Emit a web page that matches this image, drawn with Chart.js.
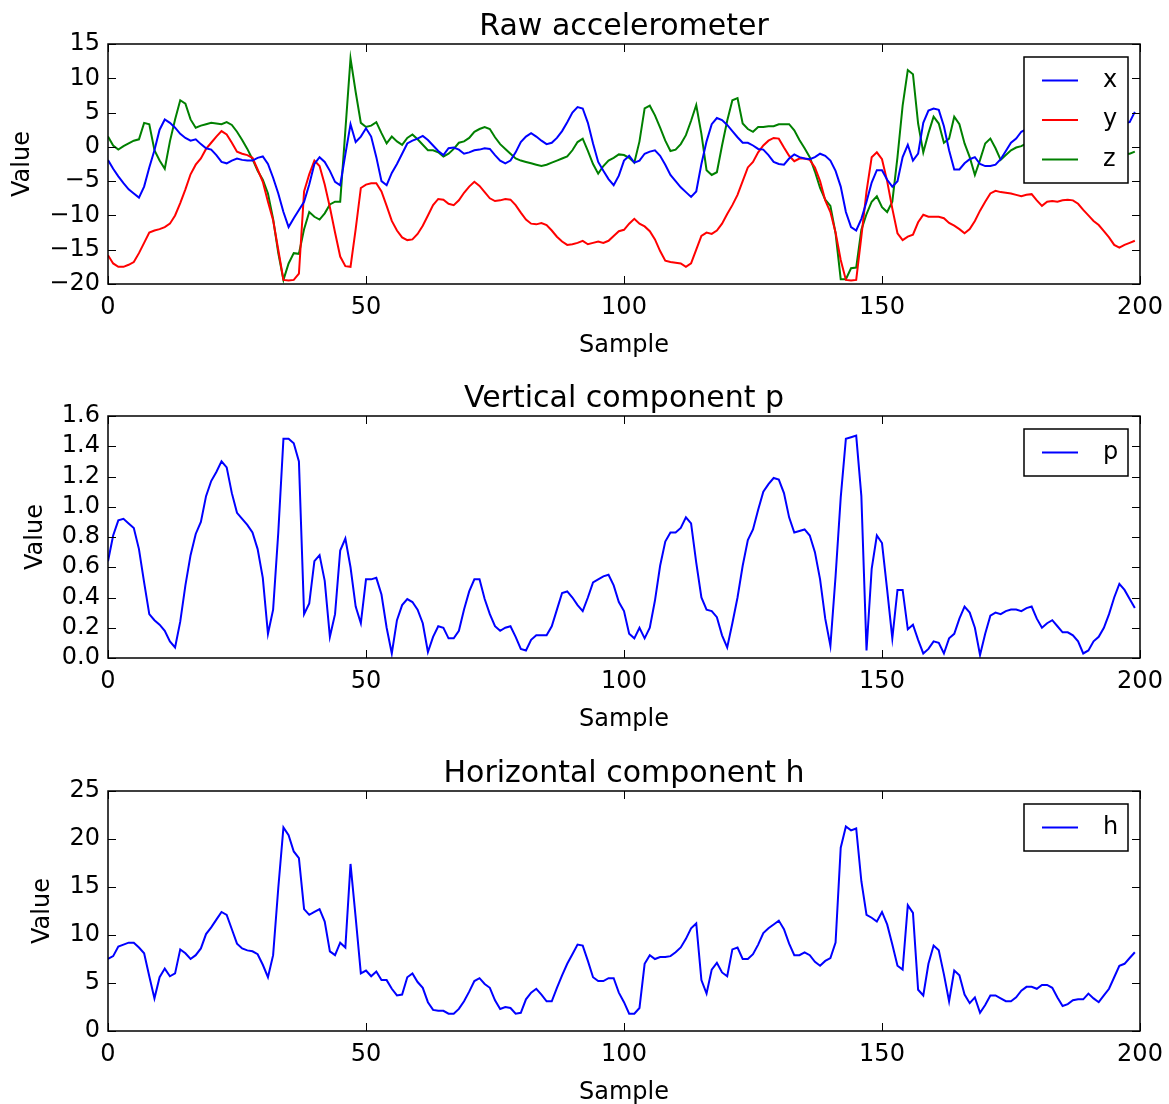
<!DOCTYPE html>
<html>
<head>
<meta charset="utf-8">
<title>Accelerometer components</title>
<script src="https://cdn.jsdelivr.net/npm/chart.js@4.4.1/dist/chart.umd.min.js"></script>
<style>
  html, body { margin: 0; padding: 0; background: #fff; overflow: hidden; }
  .panel { position: absolute; left: 0; }
</style>
</head>
<body>
<canvas id="rawChart" class="panel" style="top:0px" width="1169" height="360"></canvas>
<canvas id="pChart" class="panel" style="top:360px" width="1169" height="374"></canvas>
<canvas id="hChart" class="panel" style="top:734px" width="1169" height="373"></canvas>
<script>
// ----------------------------
// data
// ----------------------------
const samples = Array.from({ length: 200 }, (_, i) => i);

const accX = [
  -1.9, -3.2, -4.3, -5.3, -6.2, -6.8, -7.4, -5.8, -3.0, -0.5,
  2.5, 4.0, 3.5, 2.8, 1.9, 1.3, 0.9, 1.1, 0.4, -0.2,
  -0.4, -1.2, -2.2, -2.4, -2.0, -1.7, -1.9, -2.0, -2.0, -1.6,
  -1.4, -2.5, -4.5, -6.8, -9.5, -11.7, -10.4, -9.2, -8.0, -5.5,
  -2.5, -1.5, -2.2, -3.5, -5.1, -5.6, -1.1, 3.3, 0.7, 1.5,
  2.7, 1.5, -1.5, -5.0, -5.6, -3.8, -2.5, -1.0, 0.5, 0.9,
  1.2, 1.6, 1.0, 0.2, -0.6, -1.2, -0.2, -0.1, -0.4, -1.0,
  -0.8, -0.5, -0.4, -0.2, -0.3, -1.2, -2.0, -2.4, -2.0, -0.8,
  0.7, 1.5, 2.0, 1.5, 0.9, 0.4, 0.6, 1.3, 2.3, 3.6,
  5.0, 5.8, 5.6, 3.5, 0.5, -2.2, -3.5, -4.7, -5.6, -4.2,
  -2.0, -1.3, -2.3, -2.0, -1.0, -0.7, -0.5, -1.3, -2.6, -4.1,
  -5.0, -5.9, -6.6, -7.3, -6.5, -2.5, 0.8, 3.3, 4.2, 3.9,
  3.2, 2.3, 1.4, 0.6, 0.6, 0.2, -0.3, -0.4, -1.2, -2.2,
  -2.5, -2.6, -1.7, -1.1, -1.5, -1.7, -1.8, -1.5, -1.0, -1.3,
  -2.0, -3.5, -5.8, -9.5, -11.7, -12.2, -10.5, -8.0, -5.2, -3.4,
  -3.4, -4.8, -5.8, -5.0, -1.5, 0.3, -2.0, -1.0, 3.5, 5.3,
  5.6, 5.4, 3.0, -0.5, -3.3, -3.3, -2.4, -1.8, -1.5, -2.5,
  -2.8, -2.8, -2.6, -1.8, -0.6, 0.6, 1.2, 2.2, 2.6, 2.2,
  3.0, 3.8, 3.1, 2.4, 1.9, 2.5, 3.4, 4.0, 3.3, 2.6,
  2.1, 2.7, 3.5, 3.1, 2.6, 2.9, 3.3, 3.5, 3.6, 5.1
];

const accY = [
  -15.8, -17.0, -17.5, -17.5, -17.2, -16.8, -15.5, -14.0, -12.5, -12.2,
  -12.0, -11.7, -11.2, -10.0, -8.2, -6.2, -4.0, -2.6, -1.7, -0.3,
  0.6, 1.5, 2.3, 1.8, 0.6, -0.7, -1.0, -1.2, -1.6, -3.3,
  -5.1, -8.0, -10.7, -15.0, -19.4, -19.5, -19.4, -18.5, -6.5, -4.0,
  -2.0, -2.8, -5.5, -8.8, -12.5, -16.0, -17.4, -17.5, -12.0, -6.0,
  -5.5, -5.3, -5.3, -6.5, -8.6, -10.8, -12.2, -13.2, -13.6, -13.5,
  -12.7, -11.5, -10.0, -8.5, -7.6, -7.7, -8.3, -8.5, -7.8, -6.7,
  -5.8, -5.1, -5.7, -6.6, -7.5, -7.9, -7.8, -7.6, -7.7, -8.5,
  -9.6, -10.6, -11.2, -11.3, -11.1, -11.4, -12.2, -13.1, -13.8, -14.3,
  -14.2, -14.0, -13.7, -14.2, -14.0, -13.8, -14.0, -13.7, -13.0, -12.3,
  -12.1, -11.2, -10.5, -11.2, -11.6, -12.3, -13.5, -15.2, -16.6, -16.8,
  -16.9, -17.0, -17.5, -17.0, -15.0, -13.0, -12.5, -12.7, -12.2, -11.2,
  -9.8, -8.5, -7.0, -5.0, -3.0, -2.2, -0.8, 0.2, 0.9, 1.3,
  1.2, -0.1, -1.3, -2.1, -1.7, -1.7, -1.9, -3.0, -5.0, -7.8,
  -9.5, -12.5, -16.5, -19.4, -19.5, -19.4, -13.1, -6.5, -1.5, -0.8,
  -1.8, -5.0, -9.0, -12.6, -13.6, -13.1, -12.8, -11.0, -9.9, -10.2,
  -10.2, -10.2, -10.4, -11.1, -11.5, -12.0, -12.6, -12.0, -10.8, -9.3,
  -8.0, -6.8, -6.4, -6.6, -6.7, -6.8, -7.0, -7.2, -7.0, -6.9,
  -7.8, -8.6, -8.0, -7.9, -8.0, -7.8, -7.7, -7.8, -8.3, -9.2,
  -10.0, -10.8, -11.4, -12.3, -13.2, -14.3, -14.7, -14.3, -14.0, -13.7
];

const accZ = [
  1.5, 0.2, -0.4, 0.1, 0.5, 0.9, 1.1, 3.5, 3.3, -0.5,
  -2.0, -3.2, 0.8, 4.0, 6.8, 6.3, 4.0, 2.8, 3.1, 3.3,
  3.5, 3.4, 3.3, 3.6, 3.2, 2.2, 1.0, -0.3, -1.8, -3.5,
  -4.8, -6.8, -10.5, -15.5, -19.4, -17.0, -15.5, -15.6, -12.0, -9.5,
  -10.2, -10.6, -9.7, -8.4, -8.0, -8.0, 2.4, 12.9, 8.0, 3.5,
  2.9, 3.1, 3.6, 2.0, 0.5, 1.5, 0.8, 0.3, 1.3, 1.8,
  1.1, 0.3, -0.5, -0.5, -0.8, -1.4, -1.0, -0.3, 0.6, 0.8,
  1.3, 2.2, 2.6, 2.9, 2.6, 1.4, 0.4, -0.3, -1.0, -1.7,
  -2.0, -2.2, -2.4, -2.6, -2.8, -2.6, -2.3, -2.0, -1.7, -1.4,
  -0.5, 0.7, 1.2, -0.6, -2.5, -3.9, -2.8, -2.0, -1.6, -1.1,
  -1.2, -1.6, -2.3, 0.8, 5.6, 6.0, 4.6, 2.8, 0.9, -0.6,
  -0.4, 0.4, 1.7, 3.8, 6.1, 1.9, -3.4, -4.1, -3.7, 0.2,
  3.8, 6.8, 7.1, 3.4, 2.6, 2.2, 2.9, 2.9, 3.0, 3.0,
  3.3, 3.3, 3.3, 2.4, 1.0, -0.2, -1.5, -3.6, -6.0, -7.7,
  -8.6, -12.6, -19.3, -19.3, -17.7, -17.6, -12.1, -9.8, -8.0, -7.2,
  -8.8, -9.5, -8.0, -1.5, 6.0, 11.2, 10.6, 3.4, -0.8, 2.0,
  4.4, 3.4, 0.6, 1.2, 4.4, 3.3, 0.5, -1.5, -4.1, -1.9,
  0.5, 1.2, -0.2, -1.9, -1.2, -0.5, -0.1, 0.1, 0.5, 1.0,
  0.2, -0.5, -1.2, -0.8, 0.0, 0.6, 0.2, -0.6, -1.4, -1.8,
  -1.2, -0.4, 0.3, -0.2, -0.9, -1.5, -1.2, -1.0, -1.0, -0.7
];

const vertP = [
  0.64, 0.81, 0.91, 0.92, 0.89, 0.86, 0.72, 0.50, 0.29, 0.25,
  0.22, 0.18, 0.11, 0.07, 0.24, 0.48, 0.68, 0.82, 0.90, 1.07,
  1.17, 1.23, 1.30, 1.26, 1.09, 0.96, 0.92, 0.88, 0.83, 0.72,
  0.53, 0.16, 0.32, 0.83, 1.45, 1.45, 1.42, 1.30, 0.29, 0.36,
  0.64, 0.68, 0.51, 0.14, 0.29, 0.71, 0.79, 0.60, 0.34, 0.23,
  0.52, 0.52, 0.53, 0.42, 0.20, 0.03, 0.25, 0.35, 0.39, 0.37,
  0.32, 0.23, 0.04, 0.14, 0.21, 0.20, 0.13, 0.13, 0.18, 0.32,
  0.44, 0.52, 0.52, 0.39, 0.29, 0.21, 0.18, 0.20, 0.21, 0.14,
  0.06, 0.05, 0.12, 0.15, 0.15, 0.15, 0.21, 0.32, 0.43, 0.44,
  0.40, 0.35, 0.31, 0.40, 0.50, 0.52, 0.54, 0.55, 0.48, 0.37,
  0.31, 0.16, 0.13, 0.20, 0.13, 0.20, 0.38, 0.61, 0.77, 0.83,
  0.83, 0.86, 0.93, 0.89, 0.63, 0.40, 0.32, 0.31, 0.27, 0.15,
  0.07, 0.23, 0.40, 0.61, 0.78, 0.85, 0.98, 1.10, 1.15, 1.19,
  1.18, 1.09, 0.93, 0.83, 0.84, 0.85, 0.81, 0.70, 0.52, 0.26,
  0.08, 0.54, 1.06, 1.45, 1.46, 1.47, 1.07, 0.05, 0.59, 0.81,
  0.76, 0.45, 0.13, 0.45, 0.45, 0.19, 0.22, 0.12, 0.03, 0.06,
  0.11, 0.10, 0.03, 0.13, 0.16, 0.26, 0.34, 0.30, 0.20, 0.02,
  0.16, 0.28, 0.30, 0.29, 0.31, 0.32, 0.32, 0.31, 0.33, 0.34,
  0.26, 0.20, 0.23, 0.25, 0.21, 0.17, 0.17, 0.15, 0.11, 0.03,
  0.05, 0.11, 0.14, 0.20, 0.29, 0.40, 0.49, 0.45, 0.39, 0.33
];

const horizH = [
  7.5, 7.8, 8.8, 9.0, 9.2, 9.2, 8.7, 8.1, 5.7, 3.4,
  5.6, 6.5, 5.7, 6.0, 8.5, 8.1, 7.5, 7.9, 8.6, 10.1,
  10.8, 11.6, 12.4, 12.1, 10.6, 9.1, 8.6, 8.4, 8.3, 8.0,
  6.9, 5.6, 7.9, 14.9, 21.2, 20.4, 18.7, 18.0, 12.7, 12.1,
  12.4, 12.7, 11.4, 8.3, 7.9, 9.2, 8.7, 17.4, 11.8, 6.0,
  6.3, 5.7, 6.2, 5.3, 5.3, 4.4, 3.7, 3.8, 5.6, 6.0,
  5.1, 4.5, 3.0, 2.2, 2.1, 2.1, 1.8, 1.8, 2.3, 3.1,
  4.1, 5.2, 5.5, 4.9, 4.5, 3.2, 2.3, 2.5, 2.4, 1.8,
  1.9, 3.3, 4.0, 4.4, 3.8, 3.1, 3.1, 4.5, 5.8, 7.0,
  8.0, 9.0, 8.9, 7.3, 5.6, 5.2, 5.2, 5.5, 5.5, 4.0,
  3.0, 1.8, 1.8, 2.4, 7.0, 7.9, 7.5, 7.7, 7.7, 7.8,
  8.2, 8.7, 9.6, 10.7, 11.2, 5.3, 3.9, 6.4, 7.1, 6.1,
  5.7, 8.5, 8.7, 7.5, 7.5, 8.0, 9.0, 10.2, 10.7, 11.1,
  11.5, 10.6, 9.1, 7.9, 7.9, 8.2, 7.9, 7.2, 6.8, 7.3,
  7.6, 9.2, 19.1, 21.3, 20.9, 21.1, 15.6, 12.1, 11.8, 11.4,
  12.4, 11.1, 9.0, 6.8, 6.4, 13.1, 12.3, 4.3, 3.7, 7.0,
  8.9, 8.4, 5.9, 3.1, 6.3, 5.8, 3.8, 2.9, 3.5, 1.9,
  2.7, 3.7, 3.7, 3.4, 3.1, 3.1, 3.5, 4.2, 4.6, 4.6,
  4.4, 4.8, 4.8, 4.5, 3.5, 2.6, 2.8, 3.2, 3.3, 3.3,
  3.9, 3.4, 3.0, 3.7, 4.4, 5.6, 6.8, 7.0, 7.6, 8.2
];

const sampleTicks = [0, 50, 100, 150, 200];
const rawTicks = [-20, -15, -10, -5, 0, 5, 10, 15];
const pTicks = [0.0, 0.2, 0.4, 0.6, 0.8, 1.0, 1.2, 1.4, 1.6];
const hTicks = [0, 5, 10, 15, 20, 25];

// ----------------------------
// look & feel
// ----------------------------
Chart.defaults.font.family = '"DejaVu Sans", sans-serif';
Chart.defaults.font.size = 24;
Chart.defaults.color = '#000';

const minus = v => (v < 0 ? '\u2212' + Math.abs(v) : String(v));

// panel title, centred over the plot area (not the whole canvas)
const plotTitle = {
  id: 'plotTitle',
  afterDraw(chart, args, opts) {
    const { ctx, chartArea: a } = chart;
    ctx.save();
    ctx.font = '30px "DejaVu Sans", sans-serif';
    ctx.fillStyle = '#000';
    ctx.textAlign = 'center';
    ctx.textBaseline = 'middle';
    ctx.fillText(opts.text, (a.left + a.right) / 2, a.top - 17);
    ctx.restore();
  }
};

// box around the plot + inward tick marks on all four sides
const frameTicks = {
  id: 'frameTicks',
  afterDatasetsDraw(chart) {
    const { ctx, chartArea: a, scales } = chart;
    const len = 8;
    ctx.save();
    ctx.strokeStyle = '#000';
    ctx.lineWidth = 1;
    ctx.beginPath();
    scales.x.ticks.forEach(t => {
      const px = Math.round(scales.x.getPixelForValue(t.value)) + 0.5;
      ctx.moveTo(px, a.bottom); ctx.lineTo(px, a.bottom - len);
      ctx.moveTo(px, a.top); ctx.lineTo(px, a.top + len);
    });
    scales.y.ticks.forEach(t => {
      const py = Math.round(scales.y.getPixelForValue(t.value)) + 0.5;
      ctx.moveTo(a.left, py); ctx.lineTo(a.left + len, py);
      ctx.moveTo(a.right, py); ctx.lineTo(a.right - len, py);
    });
    ctx.stroke();
    ctx.lineWidth = 1.5;
    ctx.strokeRect(a.left, a.top, a.right - a.left, a.bottom - a.top);
    ctx.restore();
  }
};

// framed legend in the upper right corner of the plot
const boxLegend = {
  id: 'boxLegend',
  afterDraw(chart) {
    const { ctx, chartArea: a } = chart;
    const sets = chart.data.datasets;
    const rowH = 39.5;
    const w = 104;
    const h = 47 + rowH * (sets.length - 1);
    const x0 = a.right - 12 - w;
    const y0 = a.top + 13;
    ctx.save();
    ctx.fillStyle = '#fff';
    ctx.fillRect(x0, y0, w, h);
    ctx.strokeStyle = '#000';
    ctx.lineWidth = 1.5;
    ctx.strokeRect(x0, y0, w, h);
    ctx.font = '24px "DejaVu Sans", sans-serif';
    ctx.textBaseline = 'middle';
    ctx.textAlign = 'left';
    sets.forEach((ds, i) => {
      const y = y0 + 23.5 + i * rowH;
      ctx.strokeStyle = ds.borderColor;
      ctx.lineWidth = 2;
      ctx.beginPath();
      ctx.moveTo(x0 + 18, y);
      ctx.lineTo(x0 + 54, y);
      ctx.stroke();
      ctx.fillStyle = '#000';
      ctx.fillText(ds.label, x0 + 79, y);
    });
    ctx.restore();
  }
};

function makePanel(id, cfg) {
  const ctx = document.getElementById(id).getContext('2d');
  const yTicks = cfg.yTicks;
  return new Chart(ctx, {
    type: 'line',
    data: {
      datasets: cfg.series.map(s => ({
        label: s.label,
        data: s.values.map((v, i) => ({ x: samples[i], y: v })),
        borderColor: s.color,
        borderWidth: 2,
        pointRadius: 0,
        tension: 0,
        fill: false
      }))
    },
    options: {
      responsive: false,
      animation: false,
      layout: { padding: { left: 0, right: 29, top: cfg.top, bottom: 0 } },
      plugins: {
        legend: { display: false },
        tooltip: { enabled: false },
        title: { display: false },
        plotTitle: { text: cfg.title }
      },
      scales: {
        x: {
          type: 'linear',
          min: sampleTicks[0],
          max: sampleTicks[sampleTicks.length - 1],
          grid: { display: false, drawTicks: false },
          border: { display: false },
          afterBuildTicks: axis => { axis.ticks = sampleTicks.map(v => ({ value: v })); },
          afterFit: axis => {
            axis.height = 76;
            axis.paddingLeft = 0;
            axis.paddingRight = 0;
          },
          ticks: { padding: 9, autoSkip: false, maxRotation: 0, callback: v => String(v) },
          title: { display: true, text: 'Sample', padding: { top: 0, bottom: 0 } }
        },
        y: {
          min: yTicks[0],
          max: yTicks[yTicks.length - 1],
          grid: { display: false, drawTicks: false },
          border: { display: false },
          afterBuildTicks: axis => { axis.ticks = yTicks.map(v => ({ value: v })); },
          afterFit: axis => {
            axis.width = 108;
            axis.paddingTop = 0;
            axis.paddingBottom = 0;
          },
          ticks: { padding: 8, autoSkip: false, callback: cfg.yFormat },
          title: { display: true, text: 'Value', padding: { top: cfg.yTitleOffset, bottom: 0 } }
        }
      }
    },
    plugins: [frameTicks, boxLegend, plotTitle]
  });
}

makePanel('rawChart', {
  title: 'Raw accelerometer',
  top: 44,
  yTicks: rawTicks,
  yFormat: minus,
  yTitleOffset: 8,
  series: [
    { label: 'x', values: accX, color: '#0000ff' },
    { label: 'y', values: accY, color: '#ff0000' },
    { label: 'z', values: accZ, color: '#008000' }
  ]
});

makePanel('pChart', {
  title: 'Vertical component p',
  top: 56,
  yTicks: pTicks,
  yFormat: v => v.toFixed(1),
  yTitleOffset: 21,
  series: [{ label: 'p', values: vertP, color: '#0000ff' }]
});

makePanel('hChart', {
  title: 'Horizontal component h',
  top: 57,
  yTicks: hTicks,
  yFormat: v => String(v),
  yTitleOffset: 28,
  series: [{ label: 'h', values: horizH, color: '#0000ff' }]
});
</script>
</body>
</html>
